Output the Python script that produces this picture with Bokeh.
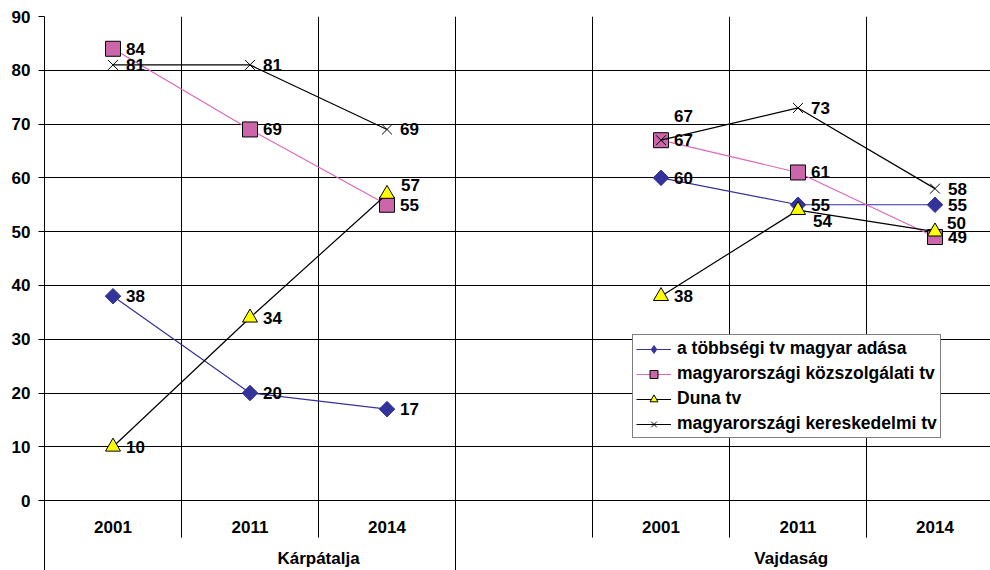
from bokeh.plotting import figure
from bokeh.models import Range1d, FixedTicker, ColumnDataSource, Legend, LegendItem
from bokeh.core.properties import value
from bokeh.embed import file_html
from bokeh.resources import INLINE

# ---------------- data ----------------
years = ["2001", "2011", "2014"]
regions = ["Kárpátalja", "Vajdaság"]
series_names = [
    "a többségi tv magyar adása",
    "magyarországi közszolgálati tv",
    "Duna tv",
    "magyarországi kereskedelmi tv",
]
y_ticks = [0, 10, 20, 30, 40, 50, 60, 70, 80, 90]

tobbsegi_karpatalja = [38, 20, 17]
tobbsegi_vajdasag = [60, 55, 55]
kozszolgalati_karpatalja = [84, 69, 55]
kozszolgalati_vajdasag = [67, 61, 49]
duna_karpatalja = [10, 34, 57]
duna_vajdasag = [38, 54, 50]
kereskedelmi_karpatalja = [81, 81, 69]
kereskedelmi_vajdasag = [67, 73, 58]

series_values = [
    (tobbsegi_karpatalja, tobbsegi_vajdasag),
    (kozszolgalati_karpatalja, kozszolgalati_vajdasag),
    (duna_karpatalja, duna_vajdasag),
    (kereskedelmi_karpatalja, kereskedelmi_vajdasag),
]

# ---------------- styles ----------------
FONT = value("Liberation Sans")
FS = "17px"
line_colors = ["#333399", "#DD66BB", "#000000", "#000000"]
markers = ["square", "square", "triangle", "x"]
legend_markers = ["diamond", "square", "triangle", "x"]
marker_fill = ["#333399", "#CC66AA", "#FFFF00", None]
marker_line = ["#333399", "#000000", "#000000", "#000000"]
marker_size = [11, 15, 15, 14]
marker_angle = [0.785398, 0, 0, 0]

# label offsets (pixels) for labels that are moved from the default place
DEFAULT_DX, DEFAULT_DY = 13, 0
label_shift = {
    (3, 1, 0): (13, -24),   # kereskedelmi, Vajdaság, 2001
    (2, 1, 1): (15, 11),    # Duna, Vajdaság, 2011
    (2, 1, 2): (12, -9),    # Duna, Vajdaság, 2014
    (2, 0, 2): (14, -9),    # Duna, Kárpátalja, 2014
}

# slot positions: region 0 -> slots 1..3, blank slot 4, region 1 -> slots 5..7
n_years = len(years)
slot_x = [[r * (n_years + 1) + i + 1 for i in range(n_years)] for r in range(len(regions))]
n_slots = len(regions) * (n_years + 1) - 1

X_END = 7.405
Y_START = -13.0

p = figure(width=990, height=570, output_backend="svg", toolbar_location=None,
           x_range=Range1d(0.5, X_END), y_range=Range1d(Y_START, 90),
           x_axis_location=None, min_border_left=44, min_border_right=0,
           min_border_top=16, min_border_bottom=0)
p.outline_line_color = None
p.xgrid.visible = False
p.ygrid.ticker = FixedTicker(ticks=y_ticks)
p.ygrid.grid_line_color = "#000000"
p.ygrid.grid_line_width = 1

yax = p.yaxis[0]
yax.ticker = FixedTicker(ticks=y_ticks, minor_ticks=[])
yax.axis_line_color = "#000000"
yax.major_tick_line_color = "#000000"
yax.major_tick_out = 6
yax.major_tick_in = 0
yax.minor_tick_out = 0
yax.minor_tick_in = 0
yax.major_label_standoff = 8
yax.major_label_text_font = "Liberation Sans"
yax.major_label_text_font_style = "bold"
yax.major_label_text_font_size = FS
yax.major_label_text_color = "#000000"

# vertical category separators
sep_x = [i + 0.5 for i in range(1, n_slots + 1)]
group_sep = [n_years + 0.5]
x0s, y0s, x1s, y1s = [], [], [], []
for sx in sep_x:
    x0s.append(sx)
    y0s.append(90)
    x1s.append(sx)
    y1s.append(Y_START if sx in group_sep else -6.88)
p.segment(x0=x0s, y0=y0s, x1=x1s, y1=y1s, line_color="#000000", line_width=1)

# series
legend_items = []
lab_x, lab_y, lab_t, lab_dx, lab_dy = [], [], [], [], []
for s, name in enumerate(series_names):
    rends = []
    for r in range(len(regions)):
        xs = slot_x[r]
        ys = series_values[s][r]
        lr = p.line(xs, ys, line_color=line_colors[s], line_width=1.2)
        kw = dict(size=marker_size[s], line_color=marker_line[s], line_width=1,
                  angle=marker_angle[s])
        if marker_fill[s] is not None:
            kw["fill_color"] = marker_fill[s]
        p.scatter(xs, ys, marker=markers[s], **kw)
        if r == 0:
            rends.append(lr)
        for i in range(n_years):
            dx, dy = label_shift.get((s, r, i), (DEFAULT_DX, DEFAULT_DY))
            lab_x.append(xs[i])
            lab_y.append(ys[i])
            lab_t.append(str(ys[i]))
            lab_dx.append(dx)
            lab_dy.append(dy)
    # legend-only marker renderer (a single NaN point, never drawn in the plot)
    lkw = dict(size=marker_size[s], line_color=marker_line[s], line_width=1)
    if marker_fill[s] is not None:
        lkw["fill_color"] = marker_fill[s]
    legend_src = ColumnDataSource(dict(x=[float("nan")], y=[float("nan")]))
    lm = p.scatter(x="x", y="y", source=legend_src, marker=legend_markers[s], **lkw)
    rends.append(lm)
    legend_items.append(LegendItem(label=name, renderers=rends, index=0))

lab_src = ColumnDataSource(dict(x=lab_x, y=lab_y, t=lab_t, dx=lab_dx, dy=lab_dy))
p.text(x="x", y="y", text="t", x_offset="dx", y_offset="dy", source=lab_src,
       text_font=FONT, text_font_style="bold", text_font_size=FS,
       text_align="left", text_baseline="middle", text_color="#000000")

# category labels
yx = [x for r in range(len(regions)) for x in slot_x[r]]
yt = [years[i] for r in range(len(regions)) for i in range(n_years)]
p.text(x=yx, y=[-5.0] * len(yx), text=yt, text_font=FONT, text_font_style="bold",
       text_font_size=FS, text_align="center", text_baseline="middle", text_color="#000000")
region_x = [(0.5 + n_years + 1.5) / 2, 5.95]
p.text(x=region_x, y=[-10.8] * 2, text=regions, text_font=FONT, text_font_style="bold",
       text_font_size=FS, text_align="center", text_baseline="middle", text_color="#000000")

legend = Legend(items=legend_items, location=(588, 132), margin=0, padding=3,
                spacing=4, label_height=20, glyph_height=20, glyph_width=35,
                label_standoff=6, border_line_color="#000000", border_line_width=1,
                background_fill_color="#FFFFFF", background_fill_alpha=1,
                label_text_font="Liberation Sans", label_text_font_style="bold",
                label_text_font_size="17.5px", label_text_color="#000000")
p.add_layout(legend, "center")

open("out.html", "w").write(file_html(p, INLINE))
